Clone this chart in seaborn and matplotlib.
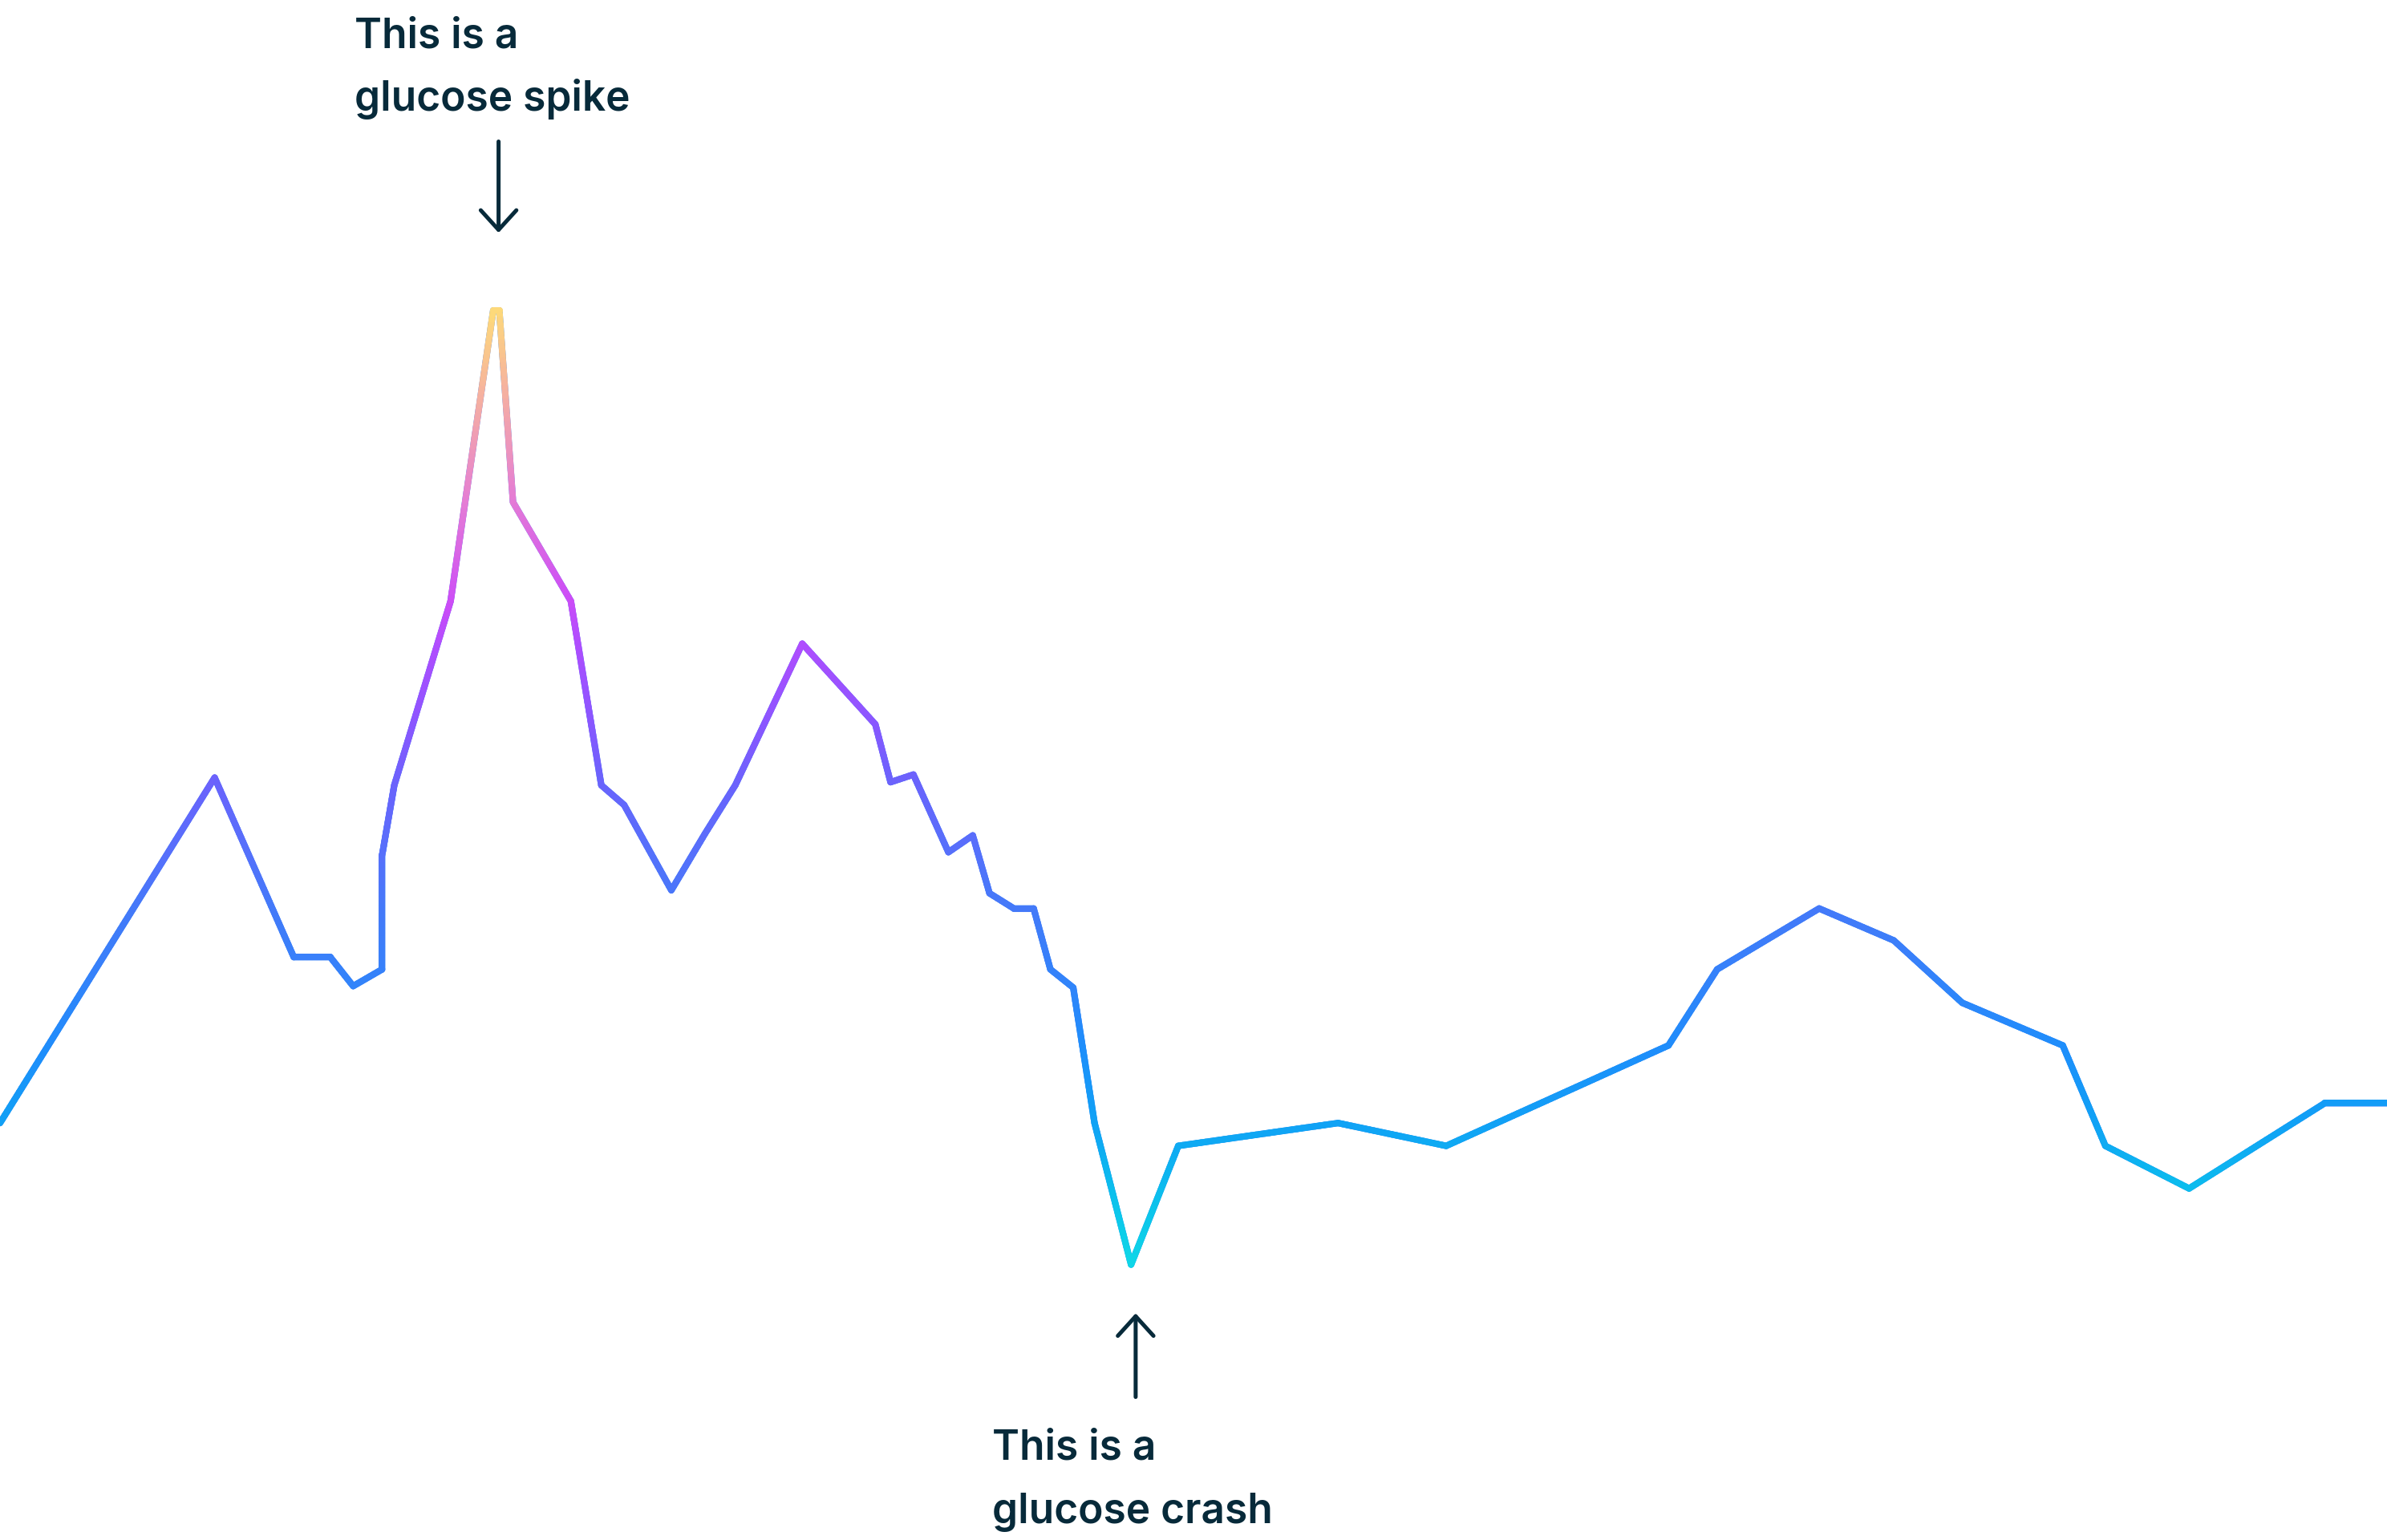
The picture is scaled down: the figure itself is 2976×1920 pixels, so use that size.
import numpy as np
import matplotlib
matplotlib.use("Agg")
import matplotlib.pyplot as plt
import seaborn as sns
import pandas as pd
from matplotlib.collections import LineCollection
from matplotlib.colors import LinearSegmentedColormap

# glucose trace (x = time, y = glucose level, arbitrary units)
time = [0, 141, 193, 217, 232, 251, 251, 259, 296, 324, 328, 337, 375, 395, 410,
        441, 463, 483, 527, 575, 585, 600, 623, 639, 650, 666, 679, 690, 705, 719,
        743, 774, 879, 950, 1096, 1128, 1195, 1244, 1289, 1355, 1383, 1438, 1527, 1568]
glucose = [274, 501, 383, 383, 364, 375, 450, 496, 617, 808, 808, 682, 617, 496, 483,
           427, 464, 496, 589, 536, 498, 503, 452, 463, 425, 415, 415, 375, 363, 274,
           181, 259, 274, 259, 325, 375, 415, 394, 353, 325, 259, 231, 287, 287]

# gradient stops (glucose level -> colour)
grad_levels = [181, 222, 272, 322, 372, 412, 452, 497, 542, 589, 617, 682, 752, 808]
grad_colors = ["#0FD6E7", "#0BC2EC", "#10A2F5", "#1E8EFB", "#3582FA", "#437AF9", "#5670FB",
               "#6A63FC", "#8E55FF", "#B04DFE", "#CC4CF7", "#E47BD6", "#F5AFA2", "#FDD97A"]

spike_text = ["This is a", "glucose spike"]
crash_text = ["This is a", "glucose crash"]

text_color = "#072A3A"
x_max, y_max = 1568, 1012
line_w = 2.9

df = pd.DataFrame({"time": time, "glucose": glucose})

sns.set_style("white")
plt.rcParams["font.family"] = ["Inter", "DejaVu Sans"]

fig = plt.figure(figsize=(14.88, 9.6), dpi=200)
ax = fig.add_axes([0, 0, 1, 1])

sns.lineplot(data=df, x="time", y="glucose", ax=ax, color="#3582FA", lw=line_w,
             sort=False, estimator=None, solid_joinstyle="round", solid_capstyle="round")

# gradient overlay: colour each small piece of the line by its glucose level
lo, hi = min(grad_levels), max(grad_levels)
cmap = LinearSegmentedColormap.from_list(
    "gluc", [((l - lo) / (hi - lo), c) for l, c in zip(grad_levels, grad_colors)])
segs, vals = [], []
for i in range(len(time) - 1):
    x0, y0, x1, y1 = time[i], glucose[i], time[i + 1], glucose[i + 1]
    n = max(2, int(np.hypot(x1 - x0, y1 - y0) / 3))
    xs = np.linspace(x0, x1, n + 1)
    ys = np.linspace(y0, y1, n + 1)
    for k in range(n):
        segs.append([(xs[k], ys[k]), (xs[k + 1], ys[k + 1])])
        vals.append((ys[k] + ys[k + 1]) / 2)
lc = LineCollection(segs, cmap=cmap, norm=plt.Normalize(lo, hi), linewidths=line_w,
                    capstyle="round", joinstyle="round")
lc.set_array(np.array(vals))
ax.add_collection(lc)

# annotations
peak_i = int(np.argmax(glucose))
low_i = int(np.argmin(glucose))
peak_x = (time[peak_i] + time[peak_i + 1]) / 2
low_x = time[low_i]

arrow_kw = dict(arrowstyle="->,head_length=0.44,head_width=0.4", lw=1.8,
                color=text_color, shrinkA=0, shrinkB=0, mutation_scale=20,
                capstyle="round", joinstyle="round")
ax.annotate("", xy=(peak_x + 1.5, glucose[peak_i] + 51), xytext=(peak_x + 1.5, glucose[peak_i] + 111),
            arrowprops=arrow_kw)
ax.annotate("", xy=(low_x + 3, glucose[low_i] - 32), xytext=(low_x + 3, glucose[low_i] - 87),
            arrowprops=arrow_kw)

fs = 18.5
tkw = dict(fontsize=fs, color=text_color, va="baseline", ha="left", fontweight="semibold")
ax.text(232.7, y_max - 31.6, spike_text[0], **tkw)
ax.text(232.7, y_max - 72.7, spike_text[1], **tkw)
ax.text(651.9, y_max - 958.9, crash_text[0], **tkw)
ax.text(651.9, y_max - 1001.0, crash_text[1], **tkw)

ax.set_xlim(0, x_max)
ax.set_ylim(0, y_max)
ax.set_axis_off()

fig.savefig("out.png", dpi=200, facecolor="white")
